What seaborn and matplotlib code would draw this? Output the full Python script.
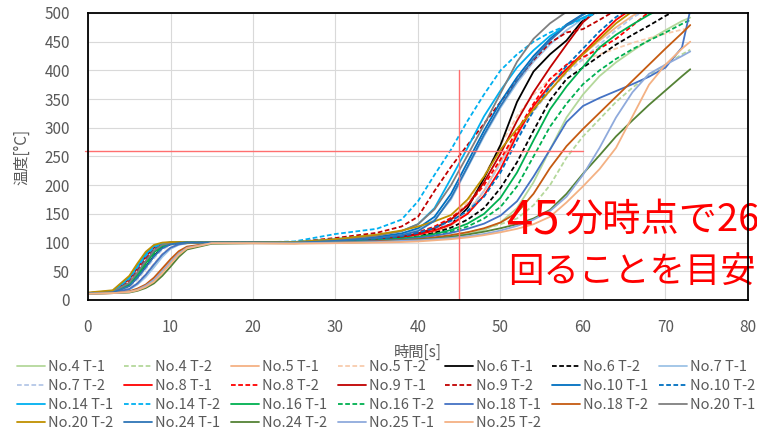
import numpy as np
import pandas as pd
import matplotlib
matplotlib.use("Agg")
import matplotlib.pyplot as plt
import seaborn as sns
from matplotlib.lines import Line2D

nan = float("nan")

# ---------------- data ----------------
time_s = [0, 3, 5, 6, 7, 8, 9, 10, 11, 12, 15, 20, 25, 30, 35, 38, 40, 42, 44, 46, 48,
          50, 52, 54, 56, 58, 60, 62, 64, 66, 68, 70, 72, 73]

no4_t1 = [12, 13, 19, 28, 42, 60, 78, 91, 97, 99, 100, 100, 99, 100, 102, 104, 106, 108, 111, 115, 122,
          135, 160, 205, 262, 318, 358, 390, 414, 434, 453, 470, 486, 492]
no4_t2 = [12, 13, 24, 38, 56, 75, 90, 97, 99, 100, 100, 100, 100, 101, 103, 105, 107, 110, 113, 118, 124,
          132, 142, 165, 200, 248, 285, 315, 345, 370, 392, 410, 428, 436]
no5_t1 = [11, 12, 14, 18, 25, 36, 52, 68, 83, 92, 99, 99, 99, 100, 103, 106, 110, 118, 130, 152, 190,
          240, 290, 335, 372, 402, 428, 452, 475, 495, 510, nan, nan, nan]
no5_t2 = [12, 13, 20, 30, 45, 63, 80, 92, 97, 99, 100, 100, 100, 102, 106, 110, 116, 126, 142, 170, 215,
          270, 320, 358, 385, 405, 418, 428, 438, 448, 456, 464, 471, 474]
no6_t1 = [12, 13, 25, 40, 58, 77, 91, 97, 99, 100, 100, 100, 100, 102, 106, 110, 115, 122, 132, 160, 212,
          270, 345, 398, 428, 452, 488, 505, nan, nan, nan, nan, nan, nan]
no6_t2 = [12, 14, 31, 50, 70, 87, 96, 99, 100, 100, 100, 100, 100, 101, 104, 107, 111, 117, 126, 140, 160,
          195, 240, 295, 348, 385, 405, 425, 445, 462, 478, 495, 510, nan]
no7_t1 = [12, 13, 18, 27, 40, 57, 75, 89, 96, 99, 100, 100, 100, 103, 108, 114, 122, 140, 175, 230, 285,
          335, 378, 415, 445, 470, 490, 505, nan, nan, nan, nan, nan, nan]
no7_t2 = [12, 13, 23, 36, 54, 73, 88, 96, 99, 100, 100, 100, 100, 102, 105, 109, 114, 122, 134, 155, 190,
          238, 285, 328, 365, 395, 420, 445, 470, 492, 508, nan, nan, nan]
no8_t1 = [12, 14, 29, 47, 67, 85, 95, 99, 100, 100, 100, 100, 100, 102, 105, 109, 114, 121, 132, 150, 182,
          228, 288, 338, 375, 402, 430, 460, 488, 508, nan, nan, nan, nan]
no8_t2 = [12, 14, 32, 52, 72, 88, 97, 100, 100, 100, 100, 100, 100, 103, 107, 112, 118, 128, 143, 165, 200,
          245, 295, 342, 385, 410, 423, 438, 455, 478, 502, nan, nan, nan]
no9_t1 = [12, 15, 36, 56, 76, 91, 98, 100, 100, 100, 100, 100, 100, 102, 106, 110, 116, 125, 140, 165, 205,
          255, 312, 362, 405, 445, 484, 508, nan, nan, nan, nan, nan, nan]
no9_t2 = [12, 14, 28, 45, 65, 84, 95, 99, 100, 100, 100, 100, 101, 108, 117, 128, 145, 190, 232, 270, 307,
          345, 383, 418, 448, 466, 472, 488, 505, nan, nan, nan, nan, nan]
no10_t1 = [12, 16, 40, 60, 80, 94, 99, 100, 100, 100, 100, 100, 100, 104, 110, 116, 125, 145, 185, 240, 295,
           345, 388, 425, 455, 480, 498, 510, nan, nan, nan, nan, nan, nan]
no10_t2 = [12, 14, 30, 49, 69, 87, 96, 99, 100, 100, 100, 100, 100, 102, 106, 111, 117, 126, 138, 155, 180,
           222, 278, 330, 372, 408, 438, 468, 493, 510, nan, nan, nan, nan]
no14_t1 = [12, 15, 39, 60, 80, 94, 99, 100, 100, 100, 100, 100, 101, 106, 113, 120, 132, 160, 212, 265, 320,
           365, 405, 435, 460, 478, 492, 505, nan, nan, nan, nan, nan, nan]
no14_t2 = [12, 15, 37, 57, 77, 92, 98, 100, 100, 100, 100, 100, 102, 115, 124, 140, 172, 218, 262, 312, 358,
           400, 428, 450, 466, 478, 490, 502, nan, nan, nan, nan, nan, nan]
no16_t1 = [12, 14, 27, 44, 64, 83, 94, 98, 100, 100, 100, 100, 100, 101, 104, 107, 110, 115, 122, 133, 150,
           178, 222, 278, 332, 372, 406, 440, 462, 480, 497, 512, nan, nan]
no16_t2 = [12, 13, 26, 42, 62, 81, 93, 98, 100, 100, 100, 100, 100, 101, 103, 106, 109, 113, 119, 128, 142,
           162, 198, 250, 302, 342, 376, 400, 420, 437, 452, 466, 481, 488]
no18_t1 = [12, 13, 19, 29, 44, 62, 79, 91, 97, 99, 100, 100, 100, 101, 103, 105, 108, 112, 117, 124, 133,
           147, 172, 215, 262, 310, 338, 352, 364, 376, 389, 405, 440, 505]
no18_t2 = [11, 12, 15, 20, 27, 39, 55, 71, 85, 93, 99, 99, 99, 100, 102, 104, 106, 109, 113, 118, 125,
           135, 152, 185, 230, 268, 298, 326, 354, 382, 410, 438, 465, 479]
no20_t1 = [12, 14, 30, 48, 68, 86, 96, 99, 100, 100, 100, 100, 100, 104, 112, 120, 132, 158, 200, 252, 305,
           360, 415, 455, 482, 502, nan, nan, nan, nan, nan, nan, nan, nan]
no20_t2 = [13, 17, 42, 64, 84, 96, 100, 101, 101, 100, 100, 100, 101, 106, 114, 121, 128, 137, 148, 175, 215,
           262, 298, 332, 365, 398, 428, 455, 482, 503, nan, nan, nan, nan]
no24_t1 = [12, 13, 24, 39, 57, 76, 90, 97, 99, 100, 100, 100, 100, 103, 108, 113, 120, 138, 178, 232, 288,
           338, 382, 420, 452, 478, 497, 512, nan, nan, nan, nan, nan, nan]
no24_t2 = [11, 12, 13, 16, 21, 29, 42, 58, 75, 88, 98, 99, 99, 100, 101, 103, 105, 107, 110, 114, 119,
           125, 132, 142, 157, 185, 220, 252, 285, 313, 340, 365, 390, 402]
no25_t1 = [11, 12, 14, 18, 25, 35, 50, 66, 81, 91, 99, 99, 99, 100, 101, 103, 104, 106, 108, 111, 115,
           121, 129, 140, 155, 180, 218, 265, 318, 362, 394, 410, 425, 433]
no25_t2 = [11, 12, 14, 17, 23, 32, 47, 63, 79, 90, 99, 99, 98, 99, 100, 101, 102, 104, 106, 109, 113,
           118, 124, 132, 145, 170, 198, 228, 265, 320, 375, 410, 438, 450]

series_names = ["No.4 T-1", "No.4 T-2", "No.5 T-1", "No.5 T-2", "No.6 T-1", "No.6 T-2", "No.7 T-1",
                "No.7 T-2", "No.8 T-1", "No.8 T-2", "No.9 T-1", "No.9 T-2", "No.10 T-1", "No.10 T-2",
                "No.14 T-1", "No.14 T-2", "No.16 T-1", "No.16 T-2", "No.18 T-1", "No.18 T-2", "No.20 T-1",
                "No.20 T-2", "No.24 T-1", "No.24 T-2", "No.25 T-1", "No.25 T-2"]
series_values = [no4_t1, no4_t2, no5_t1, no5_t2, no6_t1, no6_t2, no7_t1, no7_t2, no8_t1, no8_t2,
                 no9_t1, no9_t2, no10_t1, no10_t2, no14_t1, no14_t2, no16_t1, no16_t2, no18_t1, no18_t2,
                 no20_t1, no20_t2, no24_t1, no24_t2, no25_t1, no25_t2]
series_colors = ["#B4D89B", "#B4D89B", "#F4B183", "#F8CBAD", "#000000", "#000000", "#9DC3E6",
                 "#B4C7E7", "#FF0000", "#FF0000", "#C00000", "#C00000", "#0070C0", "#0070C0",
                 "#00B0F0", "#00B0F0", "#00B050", "#00B050", "#4472C4", "#C55A11", "#7F7F7F",
                 "#BF9000", "#2E75B6", "#548235", "#8FAADC", "#F4B183"]
series_dashed = [False, True, False, True, False, True, False, True, False, True, False, True, False, True,
                 False, True, False, True, False, False, False, False, False, False, False, False]

ref_time = 45
ref_temp = 260
ref_time_top = 400
ref_temp_end = 60
note_line1_a = "45"
note_line1_b = "分時点で260℃を上"
note_line2 = "回ることを目安とする"

# ---------------- build table ----------------
rows = []
for name, vals in zip(series_names, series_values):
    for t, v in zip(time_s, vals):
        if not np.isnan(v):
            rows.append({"series": name, "time": t, "temp": v})
df = pd.DataFrame(rows)

# ---------------- style ----------------
sns.set_style("white")
plt.rcParams["font.family"] = ["Noto Sans CJK JP", "DejaVu Sans"]
grey = "#595959"
lw = 1.3
dash = (0, (2.6, 1.4))
W, H = 757, 432

fig = plt.figure(figsize=(W / 100, H / 100), dpi=100)
ax = fig.add_axes([88 / W, 1 - 300 / H, (748 - 88) / W, (300 - 13) / H])

for name, col, dsh in zip(series_names, series_colors, series_dashed):
    sub = df[df["series"] == name]
    sns.lineplot(data=sub, x="time", y="temp", color=col, linewidth=lw,
                 estimator=None, sort=False, ax=ax)
    ln = ax.lines[-1]
    if dsh:
        ln.set_linestyle(dash)

# reference lines
ref_col = "#FF6F6F"
ax.plot([ref_time, ref_time], [0, ref_time_top], color=ref_col, lw=1.0, zorder=3)
ax.plot([-0.4, ref_temp_end], [ref_temp, ref_temp], color=ref_col, lw=1.0, zorder=3, clip_on=False)

ax.set_xlim(0, 80)
ax.set_ylim(0, 500)
ax.set_xticks(range(0, 81, 10))
ax.set_yticks(range(0, 501, 50))
ax.grid(True, color="#D9D9D9", lw=0.8)
ax.set_axisbelow(True)
for sp in ax.spines.values():
    sp.set_color("black")
    sp.set_linewidth(1.3)
    sp.set_zorder(5)
ax.tick_params(axis="both", length=0, labelsize=11, labelcolor=grey)
ax.tick_params(axis="y", pad=13)
ax.tick_params(axis="x", pad=14)
ax.set_xlabel("時間[s]", fontsize=11, color=grey, labelpad=5)
ax.set_ylabel("温度[°C]", fontsize=11, color=grey, labelpad=10)

# annotation text (overflows the right edge as in the reference)
ax.text(507 / W, 1 - 220 / H, note_line1_a, transform=fig.transFigure, color="#FF0000",
        fontsize=34, va="center", ha="left", clip_on=False, zorder=2.2)
ax.text(564 / W, 1 - 220 / H, note_line1_b, transform=fig.transFigure, color="#FF0000",
        fontsize=27.5, va="center", ha="left", clip_on=False, zorder=2.2)
ax.text(508 / W, 1 - 272 / H, note_line2, transform=fig.transFigure, color="#FF0000",
        fontsize=25.5, va="center", ha="left", clip_on=False, zorder=2.2)

# legend (row-major order like Excel)
handles = [Line2D([], [], color=c, lw=lw, linestyle=(dash if d else "-"))
           for c, d in zip(series_colors, series_dashed)]
ncol = 7
n = len(series_names)
order = []
for j in range(ncol):
    for i in range(int(np.ceil(n / ncol))):
        k = i * ncol + j
        if k < n:
            order.append(k)
fig.legend([handles[k] for k in order], [series_names[k] for k in order],
           loc="upper left", bbox_to_anchor=(17 / W, 1 - 360 / H), ncol=ncol,
           frameon=False, fontsize=10.5, labelcolor=grey, handlelength=1.9,
           handletextpad=0.2, columnspacing=0.77, labelspacing=0.33, borderpad=0,
           borderaxespad=0)

fig.savefig("out.png", dpi=100)
